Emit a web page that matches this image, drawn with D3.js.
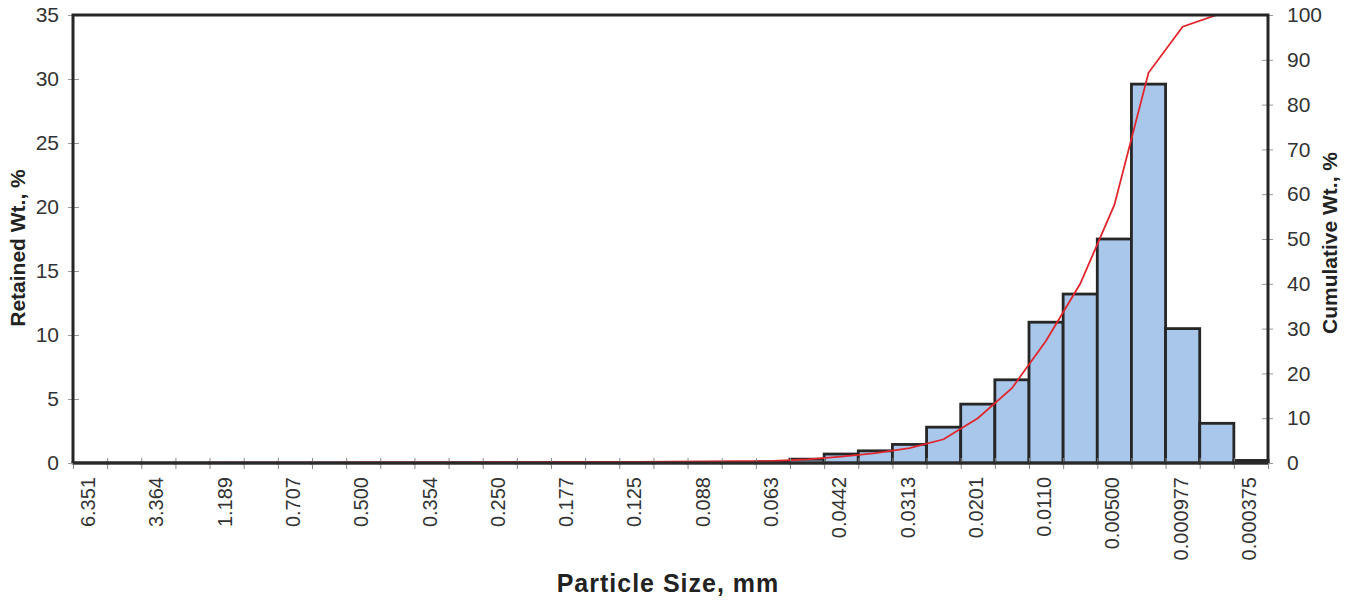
<!DOCTYPE html>
<html>
<head>
<meta charset="utf-8">
<script src="https://cdn.jsdelivr.net/npm/d3@7"></script>
<style>
	body { margin: 0; background: #fff; }
	text { font-family: "Liberation Sans", Arial, sans-serif; fill: #333; }
	.title { font-weight: bold; fill: #222; }
</style>
</head>
<body>
<div id="main"></div>
<script>
// particle size labels, shown on every other category
var sizeLabels = ["6.351", "3.364", "1.189", "0.707", "0.500", "0.354", "0.250", "0.177", "0.125",
	"0.088", "0.063", "0.0442", "0.0313", "0.0201", "0.0110", "0.00500", "0.000977", "0.000375"];

// retained weight per size class, %
var retained = [0.01, 0.01, 0.01, 0.01, 0.01, 0.01, 0.01, 0.01, 0.01, 0.01,
	0.01, 0.02, 0.02, 0.02, 0.02, 0.02, 0.03, 0.03, 0.04, 0.05,
	0.1, 0.3, 0.7, 0.95, 1.45, 2.8, 4.6, 6.5, 11.0, 13.2,
	17.5, 29.6, 10.5, 3.1, 0.2];

// cumulative weight, %
var cumulative = [0, 0.02, 0.03, 0.05, 0.06, 0.08, 0.09, 0.1, 0.12, 0.13,
	0.14, 0.16, 0.18, 0.2, 0.22, 0.24, 0.27, 0.3, 0.34, 0.39,
	0.45, 0.8, 1.4, 2.2, 3.3, 5.3, 10.0, 16.7, 27.3, 40.0,
	57.6, 87.1, 97.4, 100, 100];

var leftTicks = [0, 5, 10, 15, 20, 25, 30, 35];
var rightTicks = [0, 10, 20, 30, 40, 50, 60, 70, 80, 90, 100];

var W = 1353, H = 601;
var x0 = 73, x1 = 1268, yTop = 15, yBot = 463;

var svg = d3.select("#main").append("svg")
	.attr("width", W)
	.attr("height", H);

var idx = d3.range(retained.length);

var xBand = d3.scaleBand()
	.domain(idx)
	.range([x0, x1])
	.padding(0);

var xEdge = d3.scaleLinear()
	.domain([0, retained.length])
	.range([x0, x1]);

var yLeft = d3.scaleLinear()
	.domain([0, 35])
	.range([yBot, yTop]);

var yRight = d3.scaleLinear()
	.domain([0, 100])
	.range([yBot, yTop]);

// bars
svg.append("g")
	.selectAll("rect")
	.data(retained)
	.enter()
	.append("rect")
	.attr("x", function(d, i) { return xBand(i); })
	.attr("y", function(d) { return yLeft(d); })
	.attr("width", xBand.bandwidth())
	.attr("height", function(d) { return yBot - yLeft(d); })
	.attr("fill", "#a9c7ea")
	.attr("stroke", "#262626")
	.attr("stroke-width", 2.8);

// cumulative line
var line = d3.line()
	.x(function(d, i) { return xBand(i) + xBand.bandwidth() / 2; })
	.y(function(d) { return yRight(d); });

svg.append("path")
	.datum(cumulative)
	.attr("fill", "none")
	.attr("stroke", "#e0262c")
	.attr("stroke-width", 1.8)
	.attr("d", line);

// axes
var yaxis1 = d3.axisLeft(yLeft).tickValues(leftTicks).tickSize(0).tickPadding(14);
var yaxis2 = d3.axisRight(yRight).tickValues(rightTicks).tickSize(0).tickPadding(19);
var xaxis1 = d3.axisBottom(xEdge).tickValues(d3.range(retained.length + 1)).tickSize(0).tickFormat("");

var gl = svg.append("g")
	.attr("transform", "translate(" + x0 + ",0)")
	.call(yaxis1);

var gr = svg.append("g")
	.attr("transform", "translate(" + x1 + ",0)")
	.call(yaxis2);

var gx = svg.append("g")
	.attr("transform", "translate(0," + yBot + ")")
	.call(xaxis1);

[gl, gr, gx].forEach(function(g) {
	g.select(".domain").remove();
	g.selectAll("text")
		.attr("font-size", "21px")
		.attr("font-family", "Liberation Sans, Arial, sans-serif")
		.attr("fill", "#333");
});

// cross ticks
gl.selectAll(".tick line").attr("x1", -5).attr("x2", 6).attr("stroke", "#999").attr("stroke-width", 1);
gr.selectAll(".tick line").attr("x1", -6).attr("x2", 5).attr("stroke", "#999").attr("stroke-width", 1);
gx.selectAll(".tick line").attr("y1", -5).attr("y2", 6).attr("stroke", "#888").attr("stroke-width", 1);

// frame
svg.append("path")
	.attr("d", "M" + x0 + "," + yBot + "V" + yTop + "H" + x1 + "V" + yBot)
	.attr("fill", "none")
	.attr("stroke", "#262626")
	.attr("stroke-width", 3);

svg.append("line")
	.attr("x1", x0).attr("x2", x1)
	.attr("y1", yBot).attr("y2", yBot)
	.attr("stroke", "#2a2a2a")
	.attr("stroke-width", 3);

// category labels, rotated
svg.append("g")
	.selectAll("text")
	.data(sizeLabels)
	.enter()
	.append("text")
	.attr("transform", function(d, k) {
		var cx = xBand(k * 2) + xBand.bandwidth() / 2 - 2;
		return "translate(" + cx + ",477) rotate(-90)";
	})
	.attr("dy", ".35em")
	.attr("text-anchor", "end")
	.attr("font-size", "20px")
	.text(function(d) { return d; });

// titles
svg.append("text")
	.attr("class", "title")
	.attr("transform", "translate(25,248) rotate(-90)")
	.attr("text-anchor", "middle")
	.attr("font-size", "21px")
	.text("Retained Wt., %");

svg.append("text")
	.attr("class", "title")
	.attr("transform", "translate(1337,243) rotate(-90)")
	.attr("text-anchor", "middle")
	.attr("font-size", "21px")
	.text("Cumulative Wt., %");

svg.append("text")
	.attr("class", "title")
	.attr("x", 668)
	.attr("y", 592)
	.attr("text-anchor", "middle")
	.attr("font-size", "25px")
	.attr("letter-spacing", "1px")
	.text("Particle Size, mm");
</script>
</body>
</html>
